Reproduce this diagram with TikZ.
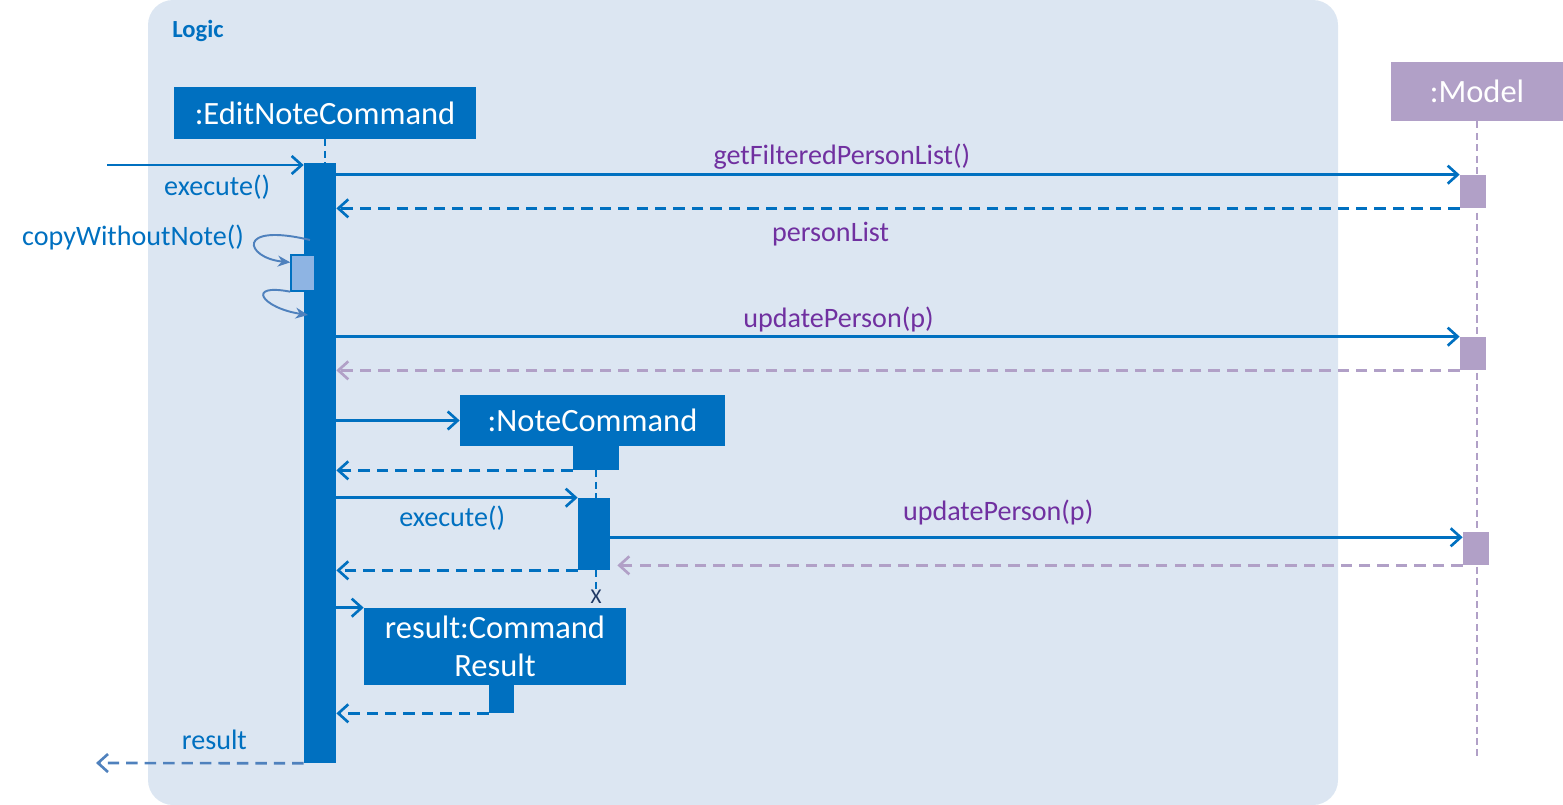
\documentclass[tikz,border=0pt]{standalone}
\usepackage{fontspec}
\setmainfont{Carlito}
\usepackage{xcolor}
\usepackage{tikz}
\usetikzlibrary{shapes,arrows,arrows.meta,positioning,calc}

\definecolor{logicblue}{HTML}{0070C0}
\definecolor{logicbg}{HTML}{DCE6F2}
\definecolor{modelpurple}{HTML}{B1A0C7}
\definecolor{msgpurple}{HTML}{7030A0}
\definecolor{selfblue}{HTML}{8EB4E3}
\definecolor{curveblue}{HTML}{4F81BD}
\definecolor{xnavy}{HTML}{1F3864}

\begin{document}
\begin{tikzpicture}[x=0.02cm, y=-0.02cm,
    obj/.style={fill=logicblue, text=white, font=\fontsize{18.5}{22}\selectfont, inner sep=0pt},
    act/.style={fill=logicblue, minimum width=0.64cm, inner sep=0pt},
    mact/.style={fill=modelpurple, minimum width=0.52cm, minimum height=0.66cm, inner sep=0pt},
    lbl/.style={font=\fontsize{16}{19}\selectfont, text=logicblue, inner sep=2pt},
    mlbl/.style={lbl, text=msgpurple},
    call/.style={draw=logicblue, line width=1.5pt, -{Straight Barb[length=2mm,width=3.6mm]}},
    ret/.style={call, dash pattern=on 6.5pt off 4pt},
    mret/.style={ret, draw=modelpurple},
    life/.style={draw=logicblue, line width=1.3pt, dash pattern=on 4pt off 2.5pt},
    selfcall/.style={draw=curveblue, line width=1.1pt, -{Stealth[length=2.5mm,width=2.2mm]}}]

    \useasboundingbox (0,0) rectangle (1563,805);
    \fill[logicbg, rounded corners=0.5cm] (148,0) rectangle (1338,805);
    \node[font=\bfseries\fontsize{14}{16}\selectfont, text=logicblue] (logic) at (198,31) {Logic};

    % lifelines
    \node[obj, minimum width=6.04cm, minimum height=1.04cm] (enc) at (325,113) {:EditNoteCommand};
    \node[act, minimum height=12cm] (encact) at (320,463) {};
    \draw[life] (enc.south) -- (enc.south |- encact.north);

    \node[obj, fill=modelpurple, minimum width=3.44cm, minimum height=1.18cm] (mdl) at (1477,91.5) {:Model};
    \coordinate (mdlend) at (1477,757);
    \draw[life, draw=modelpurple] (mdl.south) -- (mdlend);
    \node[mact] (m1) at (1473,191.5) {};
    \node[mact] (m2) at (1473,353.5) {};
    \node[mact] (m3) at (1476,548.5) {};

    % execute
    \coordinate (start) at (107,165);
    \draw[call] (start) -- node[pos=0.56, below=3pt, lbl] {execute()} (start -| encact.west);

    \draw[call] (encact.east |- m1.north) -- node[pos=0.45, above, mlbl] {getFilteredPersonList()} (m1.north west);
    \draw[ret] (m1.south west) -- node[pos=0.56, below=5pt, mlbl] {personList} (encact.east |- m1.south);

    % copyWithoutNote
    \node[lbl] (cwn) at (133,237) {copyWithoutNote()};
    \node[fill=selfblue, draw=logicblue, line width=0.8pt, minimum width=0.48cm, minimum height=0.72cm, inner sep=0pt] (self) at (303,273) {};
    \coordinate (selfout) at (310,240);
    \coordinate (selfback) at (308,315);
    \draw[selfcall] (selfout) .. controls (235,222) and (245,258) .. (self.140);
    \draw[selfcall] (self.south west) .. controls (245,283) and (262,308) .. (selfback);

    \draw[call] (encact.east |- m2.north) -- node[pos=0.447, above, mlbl] {updatePerson(p)} (m2.north west);
    \draw[mret] (m2.south west) -- (encact.east |- m2.south);

    % NoteCommand
    \node[obj, minimum width=5.3cm, minimum height=1.02cm] (note) at (592.5,420.5) {:NoteCommand};
    \draw[call] (encact.east |- note.west) -- (note.west);
    \node[act, minimum width=0.92cm, minimum height=0.48cm] (nact1) at (596,458) {};
    \draw[ret] (nact1.south west) -- (encact.east |- nact1.south);
    \node[act, minimum height=1.44cm] (nact2) at (594,534) {};
    \draw[life] (nact1.south) -- (nact1.south |- nact2.north);
    \draw[call] (encact.east |- nact2.north) -- node[pos=0.48, below=2pt, lbl] {execute()} (nact2.north west);
    \draw[call] (nact2.east |- m3.140) -- node[pos=0.455, above=4pt, mlbl] {updatePerson(p)} (m3.140);
    \draw[mret, shorten >=4pt] (m3.south west) -- (nact2.east |- m3.south);
    \draw[ret] (nact2.south west) -- (encact.east |- nact2.south);
    \node[font=\fontsize{12}{14}\selectfont, text=xnavy, inner sep=0pt] (xmark) at (596,597) {X};
    \draw[life] (nact1.south |- nact2.south) -- (nact1.south |- xmark.north);

    % CommandResult
    \node[obj, minimum width=5.24cm, minimum height=1.54cm, align=center] (res) at (495,646.5) {result:Command\\Result};
    \draw[call] (encact.east |- res.north west) -- (res.north west);
    \node[act, minimum width=0.5cm, minimum height=0.56cm] (ract) at (501.5,699) {};
    \draw[ret] (ract.south west) -- (encact.east |- ract.south);

    \coordinate (finish) at (96,763);
    \draw[ret, draw=curveblue] (encact.south west) -- node[pos=0.43, above=5pt, lbl] {result} (finish);
\end{tikzpicture}
\end{document}
